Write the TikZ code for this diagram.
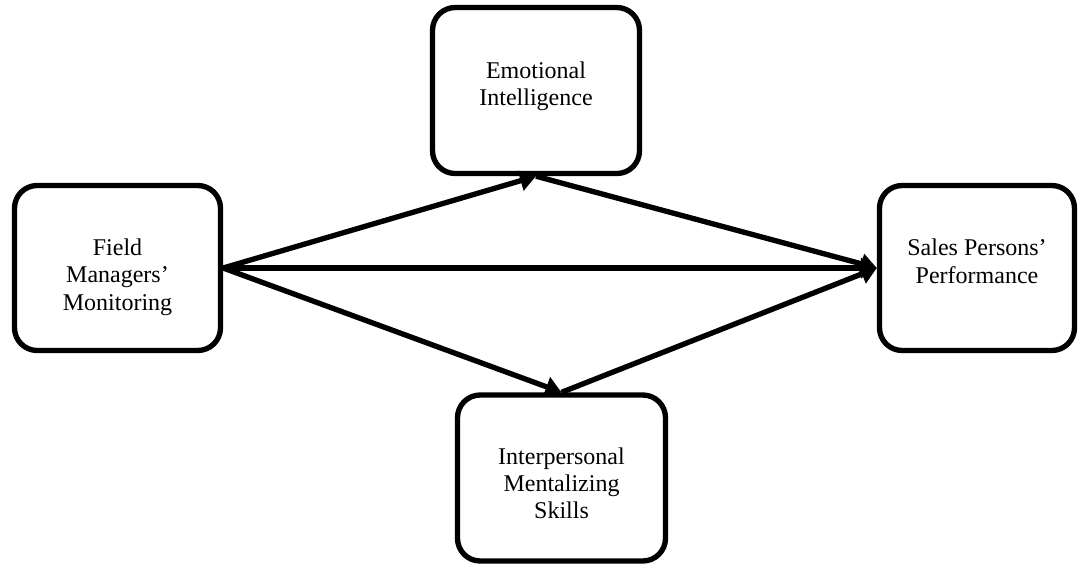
\documentclass[tikz,border=0pt]{standalone}
\usepackage{fontspec}
\setmainfont{Liberation Serif}
\usetikzlibrary{arrows.meta}
\newcommand\movetext[2]{\raisebox{#1}[\height][\depth]{\begin{tabular}{@{}c@{}}#2\end{tabular}}}
\begin{document}
\begin{tikzpicture}[x=0.75pt,y=-0.75pt,
  box/.style={draw=black, line width=4pt, rounded corners=17pt, fill=white,
    align=center, font=\fontsize{18}{20.5}\selectfont, inner sep=0pt},
  link/.style={line width=4pt, -{Triangle[length=12pt,width=15pt]}}]
\useasboundingbox (0,0) rectangle (1078,565);
\node[box, minimum width=206*0.75pt, minimum height=165*0.75pt] (fmm) at (117.5,268) {\movetext{-7pt}{Field\\Managers’\\Monitoring}};
\node[box, minimum width=207*0.75pt, minimum height=166*0.75pt] (ei) at (536,90.5) {\movetext{3pt}{Emotional\\Intelligence}};
\node[box, minimum width=195*0.75pt, minimum height=165*0.75pt] (spp) at (977,268) {\movetext{3pt}{Sales Persons’\\Performance}};
\node[box, minimum width=208*0.75pt, minimum height=166*0.75pt] (ims) at (561.5,478) {\movetext{-6pt}{Interpersonal\\Mentalizing\\Skills}};
\draw[link] (fmm.east) -- (ei.south);
\draw[link] (fmm.east) -- (spp.west);
\draw[link] (fmm.east) -- (ims.north);
\draw[link] (ei.south) -- (spp.west);
\draw[link] (ims.north) -- (spp.west);
\end{tikzpicture}
\end{document}
